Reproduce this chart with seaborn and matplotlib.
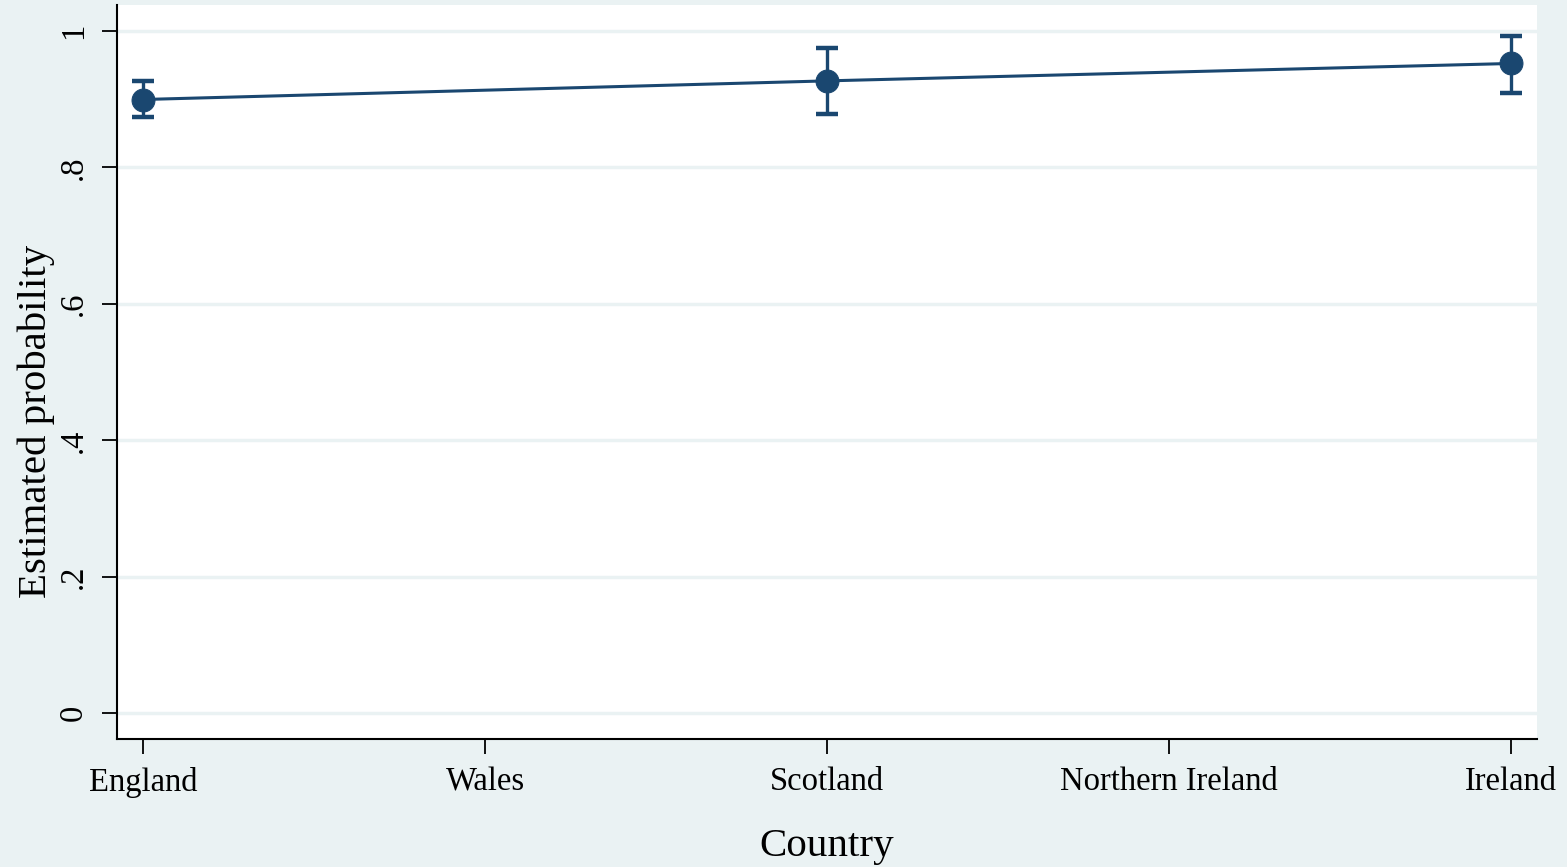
import matplotlib
matplotlib.use("Agg")
import matplotlib.pyplot as plt
import numpy as np
import pandas as pd
import seaborn as sns

# categories on the x axis (only some have estimates)
countries = ["England", "Wales", "Scotland", "Northern Ireland", "Ireland"]
est_countries = ["England", "Scotland", "Ireland"]
est_prob = [0.8995, 0.9268, 0.9523]
ci_low = [0.874, 0.8784, 0.9097]
ci_high = [0.926, 0.9757, 0.9933]
y_ticks = [0, 0.2, 0.4, 0.6, 0.8, 1.0]
y_ticklabels = ["0", ".2", ".4", ".6", ".8", "1"]

BG = "#EAF2F3"
LINE = "#1A4770"

sns.set_theme(style="white")
plt.rcParams["font.family"] = ["Liberation Serif", "DejaVu Serif"]
plt.rcParams["text.color"] = "black"
plt.rcParams["axes.labelcolor"] = "black"
plt.rcParams["xtick.color"] = "black"
plt.rcParams["ytick.color"] = "black"

pos = [countries.index(c) for c in est_countries]
df = pd.DataFrame({"pos": pos, "prob": est_prob, "lo": ci_low, "hi": ci_high})

fig = plt.figure(figsize=(15.67, 8.67), dpi=100, facecolor=BG)
ax = fig.add_axes([117 / 1567, 1 - 739 / 867, 1420 / 1567, 734 / 867])
ax.set_facecolor("white")

for yt in y_ticks:
    ax.axhline(yt, color=BG, linewidth=2.5, zorder=0)

ax.errorbar(df["pos"], df["prob"],
            yerr=[df["prob"] - df["lo"], df["hi"] - df["prob"]],
            fmt="none", ecolor=LINE, elinewidth=2.4, capsize=8, capthick=3.2, zorder=2)
sns.lineplot(data=df, x="pos", y="prob", ax=ax, color=LINE, linewidth=2.2,
             marker="o", markersize=16.5, markeredgecolor=LINE, zorder=3)

ax.set_xlim(-0.076, 4.076)
ax.set_ylim(-0.0377, 1.038)
ax.set_xticks(range(len(countries)))
ax.set_xticklabels(countries, fontsize=23.5)
ax.set_yticks(y_ticks)
ax.set_yticklabels(y_ticklabels, fontsize=23.5, rotation=90, va="center")
ax.tick_params(axis="both", which="both", direction="out", length=11, width=1.3,
               color="black", pad=9, left=True, bottom=True)
ax.set_xlabel("Country", fontsize=29.5, labelpad=22)
ax.set_ylabel("Estimated probability", fontsize=29.4)
ax.yaxis.set_label_coords(-0.0437, 0.433)

for side in ["top", "right"]:
    ax.spines[side].set_visible(False)
for side in ["left", "bottom"]:
    ax.spines[side].set_color("black")
    ax.spines[side].set_linewidth(1.5)

fig.savefig("out.png", dpi=100, facecolor=BG)
